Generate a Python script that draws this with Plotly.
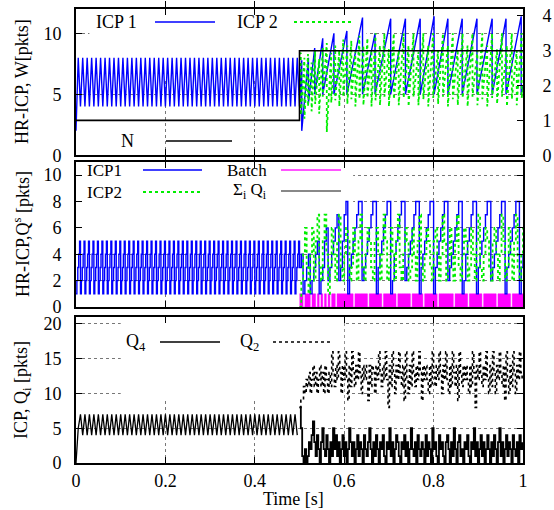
import numpy as np
import plotly.graph_objects as go

FONT = "Liberation Serif, Times New Roman, serif"
BLUE = "#0000ff"
GREEN = "#00ee00"
MAGENTA = "#ff00ff"

# ---------------- top panel: windows W [pkts] and flow count N ----------------
# ICP 1 window while it is alone, one vertex every 5 ms
W1_PRE_DT = 0.005
w1_pre = [
    2, 8, 4, 8, 4, 8, 4, 8, 4, 8,
    4, 8, 4, 8, 4, 8, 4, 8, 4, 8,
    4, 8, 4, 8, 4, 8, 4, 8, 4, 8,
    4, 8, 4, 8, 4, 8, 4, 8, 4, 8,
    4, 8, 4, 8, 4, 8, 4, 8, 4, 8,
    4, 8, 4, 8, 4, 8, 4, 8, 4, 8,
    4, 8, 4, 8, 4, 8, 4, 8, 4, 8,
    4, 8, 4, 8, 4, 8, 4, 8, 4, 8,
    4, 8, 4, 8, 4, 8, 4, 8, 4, 8,
    4, 8, 4, 8, 4, 8, 4, 8, 4, 8,
]
# ICP 1 after t = 0.5 s: sawtooth teeth (drop time, peak, value after drop)
w1_start = (0.500, 4.0)
w1_drop_t = [0.505, 0.520, 0.534, 0.552, 0.577, 0.606, 0.641, 0.669, 0.704,
             0.737, 0.770, 0.801, 0.832, 0.864, 0.897, 0.931, 0.962, 0.996]
w1_peak = [7.8, 8.0, 8.8, 9.6, 10.0, 10.2, 11.3, 10.0, 11.2,
           11.2, 11.2, 11.4, 11.2, 11.2, 11.2, 11.2, 11.2, 11.4]
w1_trough = [2.0, 4.3, 5.0, 5.0, 5.0, 5.0, 5.0, 5.0, 5.0,
             5.0, 5.0, 5.0, 5.0, 5.0, 5.0, 5.0, 5.0, 5.0]
w1_end = (1.0, 5.7)

# ICP 2 window (active from t = 0.5 s)
w2_start = (0.500, 8.3)
w2_drop_t = [0.503, 0.511, 0.519, 0.527, 0.535, 0.544, 0.552, 0.561, 0.571, 0.580,
             0.589, 0.598, 0.607, 0.616, 0.625, 0.634, 0.643, 0.652, 0.661, 0.670,
             0.680, 0.690, 0.700, 0.711, 0.722, 0.733, 0.744, 0.755, 0.766, 0.777,
             0.788, 0.799, 0.810, 0.821, 0.832, 0.843, 0.854, 0.865, 0.876, 0.887,
             0.898, 0.909, 0.920, 0.931, 0.942, 0.953, 0.964, 0.975, 0.986, 0.997]
w2_peak = [8.4, 8.0, 8.3, 7.6, 8.6, 7.9, 8.8, 9.2, 8.4, 9.0,
           8.6, 9.5, 9.0, 9.4, 8.5, 9.8, 9.0, 9.6, 8.6, 10.0,
           9.0, 10.0, 8.7, 10.0, 8.6, 10.0, 9.0, 10.0, 8.5, 10.0,
           9.0, 10.0, 8.6, 10.0, 9.0, 10.0, 8.7, 10.0, 9.0, 10.0,
           8.6, 10.0, 9.0, 10.0, 8.7, 10.0, 9.0, 10.0, 8.6, 10.0]
w2_trough = [3.3, 3.0, 4.0, 3.6, 4.2, 3.4, 4.8, 1.9, 4.3, 4.5,
             4.0, 4.8, 4.2, 4.6, 4.0, 4.6, 4.1, 4.7, 4.0, 4.5,
             4.1, 4.8, 4.0, 4.6, 4.1, 4.7, 4.0, 4.8, 4.1, 4.6,
             4.0, 4.7, 4.2, 4.8, 4.0, 4.6, 4.1, 4.7, 4.0, 4.8,
             4.1, 4.6, 4.0, 4.7, 4.2, 4.8, 4.0, 4.6, 4.1, 4.7]
w2_end = (1.0, 5.5)

# number of active flows (right axis)
n_t = [0.0, 0.5, 1.0]
n_val = [1, 3, 3]

# ---------------- middle panel: switch queue occupancy Q^s [pkts] ----------------
Q1_PRE_DT = 0.002
q1_pre = [
    1, 2, 3, 4, 5, 1, 2, 3, 4, 5, 1, 2, 3, 4, 5, 1, 2, 3, 4, 5, 1, 2, 3, 4, 5,
    1, 2, 3, 4, 5, 1, 2, 3, 4, 5, 1, 2, 3, 4, 5, 1, 2, 3, 4, 5, 1, 2, 3, 4, 5,
    1, 2, 3, 4, 5, 1, 2, 3, 4, 5, 1, 2, 3, 4, 5, 1, 2, 3, 4, 5, 1, 2, 3, 4, 5,
    1, 2, 3, 4, 5, 1, 2, 3, 4, 5, 1, 2, 3, 4, 5, 1, 2, 3, 4, 5, 1, 2, 3, 4, 5,
    1, 2, 3, 4, 5, 1, 2, 3, 4, 5, 1, 2, 3, 4, 5, 1, 2, 3, 4, 5, 1, 2, 3, 4, 5,
    1, 2, 3, 4, 5, 1, 2, 3, 4, 5, 1, 2, 3, 4, 5, 1, 2, 3, 4, 5, 1, 2, 3, 4, 5,
    1, 2, 3, 4, 5, 1, 2, 3, 4, 5, 1, 2, 3, 4, 5, 1, 2, 3, 4, 5, 1, 2, 3, 4, 5,
    1, 2, 3, 4, 5, 1, 2, 3, 4, 5, 1, 2, 3, 4, 5, 1, 2, 3, 4, 5, 1, 2, 3, 4, 5,
    1, 2, 3, 4, 5, 1, 2, 3, 4, 5, 1, 2, 3, 4, 5, 1, 2, 3, 4, 5, 1, 2, 3, 4, 5,
    1, 2, 3, 4, 5, 1, 2, 3, 4, 5, 1, 2, 3, 4, 5, 1, 2, 3, 4, 5, 1, 2, 3, 4, 5,
]
# after t = 0.5 s, one sample every 4 ms
Q_POST_DT = 0.004
q1_post = [
    3, 4, 1, 2, 3, 4, 1, 2, 3, 4,
    5, 1, 2, 3, 5, 6, 2, 3, 4, 5,
    6, 7, 2, 3, 5, 7, 8,
    1, 3, 4, 5, 6, 7, 8, 8,
    2, 3, 4, 5, 6, 7, 8, 8,
    1, 3, 4, 5, 6, 7, 8, 8,
    1, 2, 4, 5, 6, 7, 8, 8,
    2, 3, 4, 5, 6, 7, 8, 8,
    1, 3, 4, 5, 6, 7, 8, 8,
    1, 3, 4, 5, 6, 7, 8, 8,
    2, 3, 4, 5, 6, 7, 8, 8,
    1, 2, 4, 5, 6, 7, 8, 8,
    1, 3, 4, 5, 6, 7, 8, 8,
    2, 3, 4, 5, 6, 7, 8, 8,
    1, 3, 4, 5, 6, 7, 8, 8,
    1, 3, 4,
]
q2s_post = [
    0, 2, 4, 6, 3, 1, 4, 6, 2, 5,
    7, 3, 2, 5, 7, 4, 1, 3, 6, 4,
    2, 5, 7, 3, 2, 4, 6, 5, 2, 3,
    6, 4, 2, 5, 7, 3, 2, 4, 6, 5,
    3, 2, 5, 6, 4, 2, 4, 7, 5, 2,
    3, 6, 4, 2, 5, 7, 3, 2, 4, 6,
    5, 2, 3, 6, 4, 2, 5, 7, 3, 2,
    4, 6, 5, 3, 2, 5, 6, 4, 2, 4,
    7, 5, 2, 3, 6, 4, 2, 5, 7, 3,
    2, 4, 6, 5, 2, 3, 6, 4, 2, 5,
    7, 3, 2, 4, 6, 5, 3, 2, 5, 6,
    4, 2, 4, 7, 5, 2, 3, 6, 4, 2,
    5, 7, 3, 2, 4, 6,
]
batch_post = [
    1, 1, 0, 1, 1, 1, 0, 1, 1, 0,
    1, 0, 1, 0, 1, 0, 1, 0, 1, 1,
    0, 1, 1, 1, 1, 1, 1, 1, 1, 1,
    0, 1, 1, 1, 1, 1, 1, 1, 0, 1,
    1, 1, 1, 1, 1, 1, 0, 1, 1, 1,
    1, 1, 1, 1, 0, 1, 1, 1, 1, 1,
    1, 1, 0, 1, 1, 1, 1, 1, 1, 0,
    1, 1, 1, 1, 1, 1, 1, 0, 1, 1,
    1, 1, 1, 1, 1, 1, 0, 1, 1, 1,
    1, 1, 1, 1, 0, 1, 1, 1, 1, 1,
    1, 1, 0, 1, 1, 1, 1, 1, 1, 1,
    0, 1, 1, 1, 1, 1, 1, 1, 0, 1,
    1, 1, 1, 1, 1, 1,
]

# ---------------- bottom panel: ICP queues Q_i [pkts] ----------------
Q4_PRE_DT = 0.005
q4_pre = [
    0, 5, 7, 4, 7, 4, 7, 4, 7, 4,
    7, 4, 7, 4, 7, 4, 7, 4, 7, 4,
    7, 4, 7, 4, 7, 4, 7, 4, 7, 4,
    7, 4, 7, 4, 7, 4, 7, 4, 7, 4,
    7, 4, 7, 4, 7, 4, 7, 4, 7, 4,
    7, 4, 7, 4, 7, 4, 7, 4, 7, 4,
    7, 4, 7, 4, 7, 4, 7, 4, 7, 4,
    7, 4, 7, 4, 7, 4, 7, 4, 7, 4,
    7, 4, 7, 4, 7, 4, 7, 4, 7, 4,
    7, 4, 7, 4, 7, 4, 7, 4, 7, 4,
]
QI_POST_DT = 0.003
q4_post = [
    8, 5, 1, 0, 2, 0, 1, 3, 2, 4,
    6, 3, 1, 4, 2, 0, 3, 5, 2, 1,
    4, 2, 0, 3, 1, 5, 2, 4, 1, 3,
    0, 2, 4, 1, 3, 0, 2, 5, 3, 1,
    3, 0, 2, 4, 1, 3, 2, 0, 4, 2,
    1, 3, 5, 2, 0, 3, 1, 4, 2, 0,
    3, 2, 4, 1, 0, 3, 2, 5, 1, 3,
    0, 2, 4, 3, 1, 0, 3, 2, 4, 1,
    3, 0, 2, 5, 2, 1, 3, 0, 4, 2,
    1, 3, 2, 0, 4, 1, 3, 2, 0, 5,
    2, 3, 1, 0, 4, 2, 3, 1, 0, 3,
    4, 2, 0, 3, 1, 5, 2, 0, 3, 4,
    1, 2, 0, 3, 2, 4, 1, 0, 3, 2,
    5, 1, 3, 0, 2, 4, 1, 3, 0, 2,
    4, 2, 0, 3, 1, 4, 2, 0, 3, 5,
    1, 3, 0, 2, 4, 1, 3, 2, 0, 4,
    2, 1, 3, 0, 4, 2, 3,
]
q2_post = [
    8, 9, 9, 11, 10, 12, 11, 13, 10, 12,
    14, 11, 13, 10, 12, 14, 11, 13, 10, 14,
    12, 10, 13, 11, 16, 13, 11, 14, 12, 16,
    13, 10, 14, 12, 16, 12, 9, 14, 11, 16,
    13, 11, 14, 12, 16, 13, 10, 14, 12, 14,
    12, 9, 14, 11, 14, 13, 10, 14, 12, 16,
    13, 11, 14, 12, 16, 12, 8, 14, 11, 16,
    13, 10, 14, 12, 16, 13, 11, 14, 9, 16,
    12, 10, 14, 11, 16, 13, 11, 14, 12, 16,
    13, 9, 14, 12, 14, 12, 10, 14, 11, 16,
    13, 11, 14, 12, 16, 13, 10, 14, 12, 16,
    12, 10, 14, 11, 16, 13, 11, 14, 9, 16,
    13, 11, 14, 12, 14, 12, 10, 14, 11, 16,
    13, 8, 14, 12, 16, 13, 11, 14, 12, 16,
    12, 10, 14, 11, 16, 13, 10, 14, 12, 16,
    13, 11, 14, 9, 16, 12, 10, 14, 11, 16,
    13, 10, 14, 12, 16, 13, 12,
]


def grid(t0, dt, n):
    return t0 + dt * np.arange(n)


def sawtooth(start, drop_t, peaks, troughs, end):
    xs, ys = [start[0]], [start[1]]
    for t, p, q in zip(drop_t, peaks, troughs):
        xs += [t, t]
        ys += [p, q]
    xs.append(end[0])
    ys.append(end[1])
    return xs, ys


fig = go.Figure()

# top panel
w1x_post, w1y_post = sawtooth(w1_start, w1_drop_t, w1_peak, w1_trough, w1_end)
w1x = list(grid(0.0, W1_PRE_DT, len(w1_pre))) + w1x_post
w1y = list(w1_pre) + w1y_post
w2x, w2y = sawtooth(w2_start, w2_drop_t, w2_peak, w2_trough, w2_end)

fig.add_trace(go.Scatter(x=w1x, y=w1y, mode="lines", line=dict(color=BLUE, width=1.4),
                         xaxis="x", yaxis="y", showlegend=False))
fig.add_trace(go.Scatter(x=w2x, y=w2y, mode="lines",
                         line=dict(color=GREEN, width=1.8, dash="dot"),
                         xaxis="x", yaxis="y", showlegend=False))
fig.add_trace(go.Scatter(x=n_t, y=n_val, mode="lines", line_shape="hv",
                         line=dict(color="black", width=1.6),
                         xaxis="x", yaxis="y2", showlegend=False))

# middle panel
tpost = grid(0.5, Q_POST_DT, len(batch_post))
fig.add_trace(go.Scatter(x=tpost, y=batch_post, mode="lines", line_shape="hv",
                         line=dict(color=MAGENTA, width=0.5), fill="tozeroy",
                         fillcolor=MAGENTA, xaxis="x2", yaxis="y3", showlegend=False))
q1x = list(grid(0.0, Q1_PRE_DT, len(q1_pre))) + list(grid(0.5, Q_POST_DT, len(q1_post)))
q1y = list(q1_pre) + list(q1_post)
fig.add_trace(go.Scatter(x=q1x, y=q1y, mode="lines", line_shape="hv",
                         line=dict(color=BLUE, width=1.4),
                         xaxis="x2", yaxis="y3", showlegend=False))
fig.add_trace(go.Scatter(x=grid(0.5, Q_POST_DT, len(q2s_post)), y=q2s_post, mode="lines",
                         line_shape="hv", line=dict(color=GREEN, width=1.8, dash="dot"),
                         xaxis="x2", yaxis="y3", showlegend=False))
# sum of the queues: entry kept for the key only
fig.add_trace(go.Scatter(x=[None], y=[None], mode="lines", line=dict(color="#888", width=2),
                         xaxis="x2", yaxis="y3", showlegend=False))

# bottom panel
fig.add_trace(go.Scatter(x=grid(0.0, Q4_PRE_DT, len(q4_pre)), y=q4_pre, mode="lines",
                         line=dict(color="black", width=1.3),
                         xaxis="x3", yaxis="y4", showlegend=False))
fig.add_trace(go.Scatter(x=grid(0.5, QI_POST_DT, len(q4_post)), y=q4_post, mode="lines",
                         line_shape="hv", line=dict(color="black", width=1.8),
                         xaxis="x3", yaxis="y4", showlegend=False))
fig.add_trace(go.Scatter(x=grid(0.5, QI_POST_DT, len(q2_post)), y=q2_post, mode="lines",
                         line_shape="hv", line=dict(color="black", width=1.6, dash="dot"),
                         xaxis="x3", yaxis="y4", showlegend=False))

# ---------------- axes ----------------
tickfont = dict(family=FONT, size=18, color="black")
frame = dict(showline=True, linecolor="black", linewidth=2, ticks="inside", ticklen=6,
             tickwidth=1, tickcolor="black", zeroline=False, tickfont=tickfont,
             showgrid=True, gridcolor="#777", griddash="dot", gridwidth=1,
             automargin=False)

xcommon = dict(frame, range=[0, 1], tickvals=[0, 0.2, 0.4, 0.6, 0.8, 1.0], mirror="allticks")
fig.update_layout(
    xaxis=dict(xcommon, anchor="y", showticklabels=False),
    xaxis2=dict(xcommon, anchor="y3", matches="x", showticklabels=False),
    xaxis3=dict(xcommon, anchor="y4", matches="x", ticktext=["0", "0.2", "0.4", "0.6", "0.8", "1"],
                ticklabelstandoff=0),
    yaxis=dict(frame, domain=[0.678, 1.0], range=[0, 12], tickvals=[0, 5, 10], mirror=True,
               anchor="x", ticklabelstandoff=9),
    yaxis2=dict(frame, overlaying="y", side="right", range=[0, 4.2], tickvals=[0, 1, 2, 3, 4],
                showgrid=False, anchor="x", ticklabelstandoff=14),
    yaxis3=dict(frame, domain=[0.3436, 0.663], range=[0, 11], tickvals=[0, 2, 4, 6, 8, 10],
                mirror="allticks", anchor="x2", ticklabelstandoff=9),
    yaxis4=dict(frame, domain=[0.0, 0.3216], range=[0, 21], tickvals=[0, 5, 10, 15, 20],
                mirror="allticks", anchor="x3", ticklabelstandoff=9),
)

# opaque key areas: hide the grid behind the keys
shapes = []
for xr, yr, x0, x1, y0, y1 in [("x", "y", 0.03, 0.65, 6.1, 12),
                               ("x2", "y3", 0.01, 0.62, 4.9, 11),
                               ("x3", "y4", 0.10, 0.60, 9.3, 21)]:
    shapes.append(dict(type="rect", xref=xr, yref=yr, x0=x0, x1=x1, y0=y0, y1=y1,
                       fillcolor="white", line=dict(width=0), layer="between"))

# ---------------- keys (label followed by line sample) ----------------
W, H, L, T = 554, 510, 76, 9
PW, PH = 447, 454


def px(x):
    return (x - L) / PW


def py(y):
    return (T + PH - y) / PH


annotations = []


def key(label, x_text_right, y, x0, x1, color, width, dash="solid", size=18):
    annotations.append(dict(text=label, x=px(x_text_right), y=py(y), xref="paper", yref="paper",
                            xanchor="right", yanchor="middle", showarrow=False,
                            font=dict(family=FONT, size=size, color="black")))
    shapes.append(dict(type="line", xref="paper", yref="paper", x0=px(x0), x1=px(x1),
                       y0=py(y), y1=py(y), line=dict(color=color, width=width, dash=dash)))


key("ICP 1", 139, 22, 155, 215, BLUE, 1.4)
key("ICP 2", 280, 22, 294, 353, GREEN, 1.8, "dot")
key("N", 136, 141, 166, 232, "black", 1.6)
key("ICP1", 124, 170, 143, 202, BLUE, 1.4, size=17)
key("Batch", 269, 170, 281, 341, "#ff55ff", 2.2, size=17)
key("ICP2", 124, 192, 143, 202, GREEN, 1.8, "dot", size=17)
key("Σ<sub>i</sub> Q<sub>i</sub>", 269, 191, 281, 341, "#888", 2.2, size=17)
key("Q<sub>4</sub>", 148, 342, 160, 220, "black", 1.3)
key("Q<sub>2</sub>", 261, 342, 273, 333, "black", 1.3, "dot")

# axis titles
title_font = dict(family=FONT, size=18, color="black")
for text, ycen in [("HR-ICP, W[pkts]", 82), ("HR-ICP,Q<sup>s</sup> [pkts]", 234),
                   ("ICP, Q<sub>i</sub> [pkts]", 390)]:
    annotations.append(dict(text=text, x=px(22), y=py(ycen), xref="paper", yref="paper",
                            xanchor="center", yanchor="middle", textangle=-90,
                            showarrow=False, font=title_font))
annotations.append(dict(text="Time [s]", x=px(293), y=py(499), xref="paper", yref="paper",
                        xanchor="center", yanchor="middle", showarrow=False, font=title_font))

fig.update_layout(
    width=W, height=H,
    margin=dict(l=L, r=W - L - PW, t=T, b=H - T - PH),
    plot_bgcolor="white", paper_bgcolor="white",
    shapes=shapes, annotations=annotations, showlegend=False,
)

fig.write_html("out.html")
